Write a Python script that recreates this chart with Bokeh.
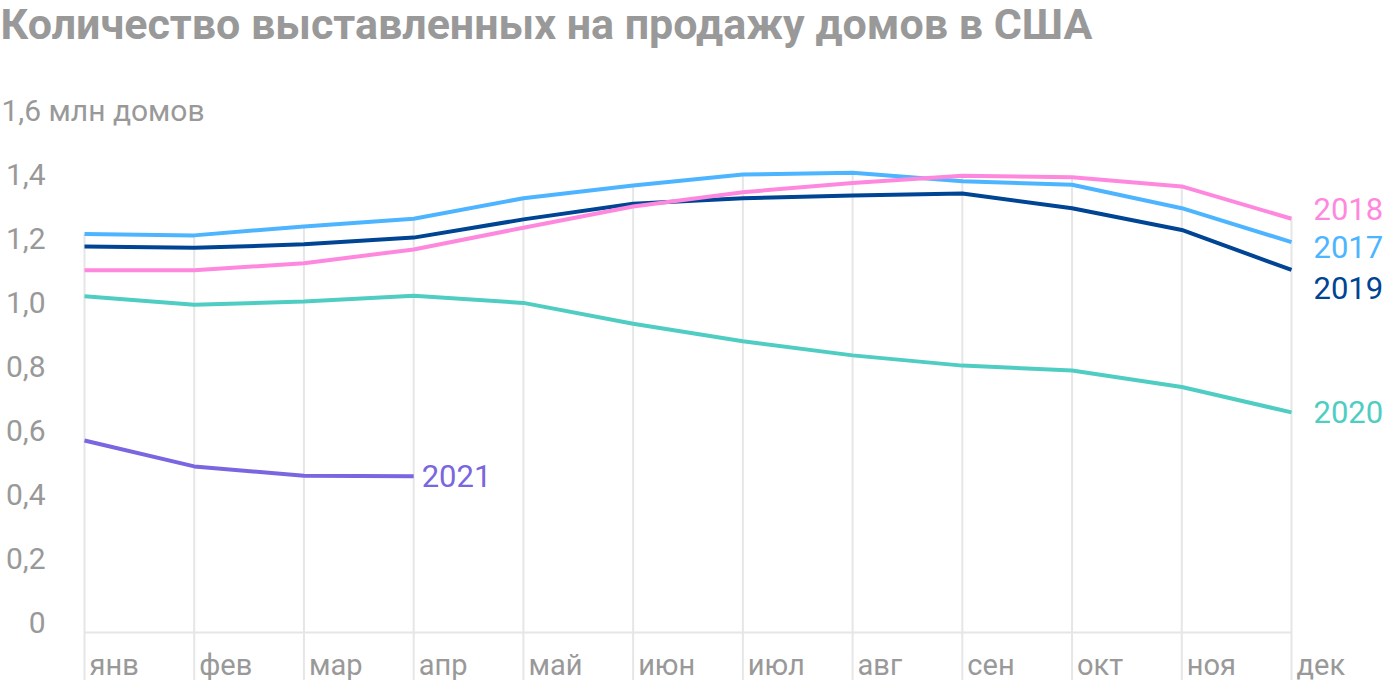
from bokeh.plotting import figure
from bokeh.models import Range1d, Label
from bokeh.core.properties import value
from bokeh.embed import file_html
from bokeh.resources import INLINE

# ---------------- data ----------------
title_text = "Количество выставленных на продажу домов в США"
unit_label = "1,6 млн домов"
unit_value = 1.6
months = ["янв", "фев", "мар", "апр", "май", "июн", "июл", "авг", "сен", "окт", "ноя", "дек"]
y_ticks = [0, 0.2, 0.4, 0.6, 0.8, 1.0, 1.2, 1.4]
y_tick_labels = ["0", "0,2", "0,4", "0,6", "0,8", "1,0", "1,2", "1,4"]

s2017 = [1.245, 1.241, 1.269, 1.293, 1.357, 1.397, 1.431, 1.437, 1.410, 1.399, 1.326, 1.220]
s2018 = [1.132, 1.132, 1.154, 1.197, 1.265, 1.331, 1.376, 1.405, 1.427, 1.423, 1.394, 1.293]
s2019 = [1.206, 1.202, 1.213, 1.234, 1.291, 1.340, 1.357, 1.366, 1.372, 1.326, 1.258, 1.133]
s2020 = [1.051, 1.024, 1.034, 1.052, 1.030, 0.965, 0.910, 0.866, 0.834, 0.819, 0.767, 0.688]
s2021 = [0.600, 0.519, 0.490, 0.488]

series_names = ["2020", "2021", "2019", "2017", "2018"]
series_values = [s2020, s2021, s2019, s2017, s2018]

# ---------------- styling / layout ----------------
colors = {"2017": "#4db5ff", "2018": "#ff88df", "2019": "#004494",
          "2020": "#4fcdc3", "2021": "#7a66e0"}
label_offsets = {"2017": (22, 5), "2018": (22, -10), "2019": (22, 18),
                 "2020": (22, 0), "2021": (8, 0)}
W, H = 1384, 680
X_FIRST_PX, X_LAST_PX = 84, 1291
ZERO_PX = 632
PX_PER_UNIT = 320.0
GRID_BELOW_PX = 48
MONTH_LABEL_DROP = 32
TICK_LABEL_RISE = 10
GRAY = "#999999"
GRID = "#e6e6e6"
FONT = value("Roboto")

n = len(months)
px_per_month = (X_LAST_PX - X_FIRST_PX) / (n - 1)
x_start = -X_FIRST_PX / px_per_month
x_end = (n - 1) + (W - X_LAST_PX) / px_per_month
y_start = -(H - ZERO_PX) / PX_PER_UNIT
y_end = ZERO_PX / PX_PER_UNIT

p = figure(width=W, height=H, x_range=Range1d(x_start, x_end), y_range=Range1d(y_start, y_end),
           output_backend="svg", toolbar_location=None, min_border=0,
           x_axis_location=None, y_axis_location=None, outline_line_color=None)
p.grid.visible = False
p.background_fill_color = "white"
p.border_fill_color = "white"

xs = list(range(n))
tops = []
for i in xs:
    vals = [s[i] for s in series_values if i < len(s)]
    tops.append(max(vals))
grid_bottom = -GRID_BELOW_PX / PX_PER_UNIT
p.segment(x0=xs, y0=[grid_bottom] * n, x1=xs, y1=tops, line_color=GRID, line_width=2)
p.segment(x0=[0], y0=[0], x1=[n - 1], y1=[0], line_color=GRID, line_width=2)

# y labels (sitting just above their value)
tick_x = (45 - X_FIRST_PX) / px_per_month
p.text(x=[tick_x] * len(y_ticks), y=y_ticks, text=y_tick_labels, text_align="right",
       y_offset=-TICK_LABEL_RISE, text_baseline="middle", text_font=FONT,
       text_font_size="30px", text_color=GRAY)
unit_x = (1 - X_FIRST_PX) / px_per_month
p.text(x=[unit_x], y=[unit_value], text=[unit_label], text_align="left",
       y_offset=-TICK_LABEL_RISE, text_baseline="middle", text_font=FONT,
       text_font_size="30px", text_color=GRAY)

# month labels
p.text(x=xs, y=[0] * n, text=months, x_offset=5, y_offset=MONTH_LABEL_DROP, text_align="left",
       text_baseline="middle", text_font=FONT, text_font_size="29px", text_color=GRAY)

# lines
for name, vals in zip(series_names, series_values):
    c = colors[name]
    p.line(x=list(range(len(vals))), y=vals, line_color=c, line_width=4, line_join="round")
    dx, dy = label_offsets[name]
    p.text(x=[len(vals) - 1], y=[vals[-1]], text=[name], x_offset=dx, y_offset=dy,
           text_align="left", text_baseline="middle", text_font=FONT,
           text_font_size="31px", text_color=c)

p.add_layout(Label(x=0, y=H - 23, x_units="screen", y_units="screen", text=title_text,
                   text_font="Roboto", text_font_size="43px", text_font_style="bold",
                   text_color=GRAY, text_baseline="middle", text_align="left"))

open("out.html", "w").write(file_html(p, INLINE))
